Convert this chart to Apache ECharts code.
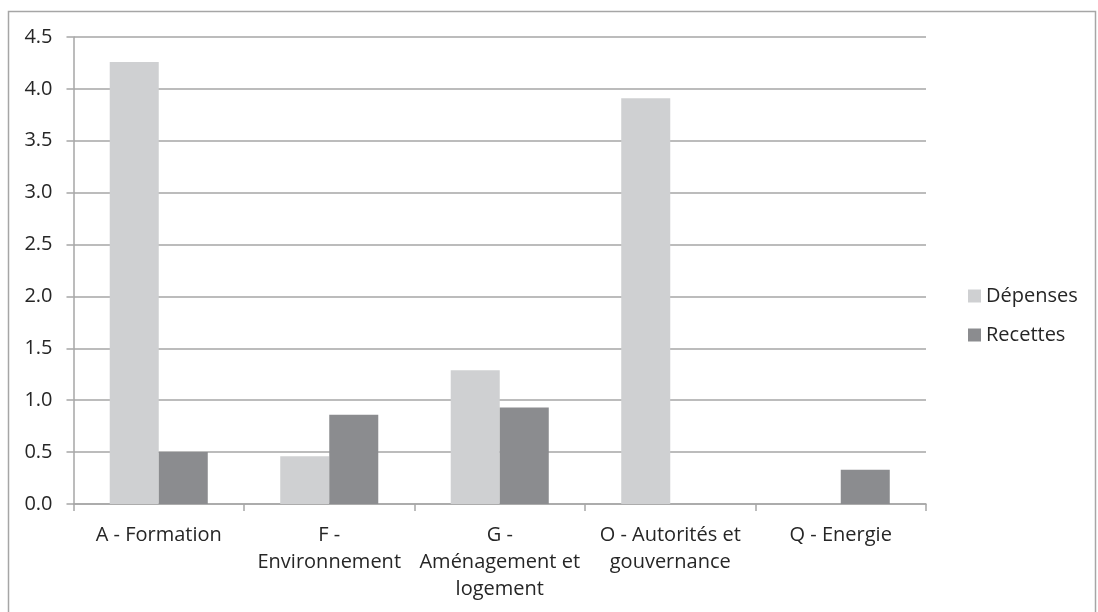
<!DOCTYPE html>
<html>
<head>
<meta charset="utf-8">
<script src="https://cdn.jsdelivr.net/npm/echarts@6/dist/echarts.min.js"></script>
<style>
html,body{margin:0;padding:0;background:#fff;}
#chart{width:1098px;height:612px;}
</style>
</head>
<body>
<div id="chart"></div>
<script>
const categories = ['A - Formation', 'F -\nEnvironnement', 'G -\nAménagement et\nlogement', 'O - Autorités et\ngouvernance', 'Q - Energie'];
const seriesNames = ['Dépenses', 'Recettes'];
const depenses = [4.26, 0.46, 1.29, 3.91, 0];
const recettes = [0.50, 0.86, 0.93, 0, 0.33];
const yMin = 0, yMax = 4.5, yStep = 0.5;

const FONT = '"Open Sans", "Liberation Sans", sans-serif';
const TXT = '#262626';
const LINE = '#a6a6a6';

const chart = echarts.init(document.getElementById('chart'), null, {renderer: 'canvas'});
chart.setOption({
  animation: false,
  backgroundColor: '#ffffff',
  graphic: [{
    type: 'rect',
    shape: {x: 8.5, y: 11.5, width: 1087, height: 700},
    style: {fill: 'none', stroke: LINE, lineWidth: 1.5},
    silent: true
  }],
  grid: {left: 73.5, right: 172, top: 37, bottom: 108, containLabel: false},
  legend: {
    orient: 'vertical',
    left: 963,
    top: 281,
    itemWidth: 13,
    itemHeight: 13,
    itemGap: 19,
    icon: 'rect',
    textStyle: {fontFamily: FONT, fontSize: 20, color: TXT, padding: [0, 0, 0, 0]},
    data: seriesNames
  },
  xAxis: {
    type: 'category',
    data: categories,
    axisLine: {show: true, lineStyle: {color: LINE, width: 1.5}},
    axisTick: {show: true, length: 7, lineStyle: {color: LINE, width: 1.5}},
    axisLabel: {
      interval: 0, margin: 18, fontFamily: FONT, fontSize: 20, color: TXT, lineHeight: 27
    },
    splitLine: {show: false}
  },
  yAxis: {
    type: 'value',
    min: yMin, max: yMax, interval: yStep,
    axisLine: {show: true, lineStyle: {color: LINE, width: 1.5}},
    axisTick: {show: true, length: 7, lineStyle: {color: LINE, width: 1.5}},
    axisLabel: {
      margin: 21, fontFamily: FONT, fontSize: 20, color: TXT,
      formatter: v => v.toFixed(1)
    },
    splitLine: {show: true, lineStyle: {color: LINE, width: 1.5}}
  },
  series: [
    {name: seriesNames[0], type: 'bar', data: depenses, barGap: '0%', barCategoryGap: '42.5%',
     itemStyle: {color: '#cfd0d2'}},
    {name: seriesNames[1], type: 'bar', data: recettes, barGap: '0%', barCategoryGap: '42.5%',
     itemStyle: {color: '#8b8c8f'}}
  ]
});
</script>
</body>
</html>
